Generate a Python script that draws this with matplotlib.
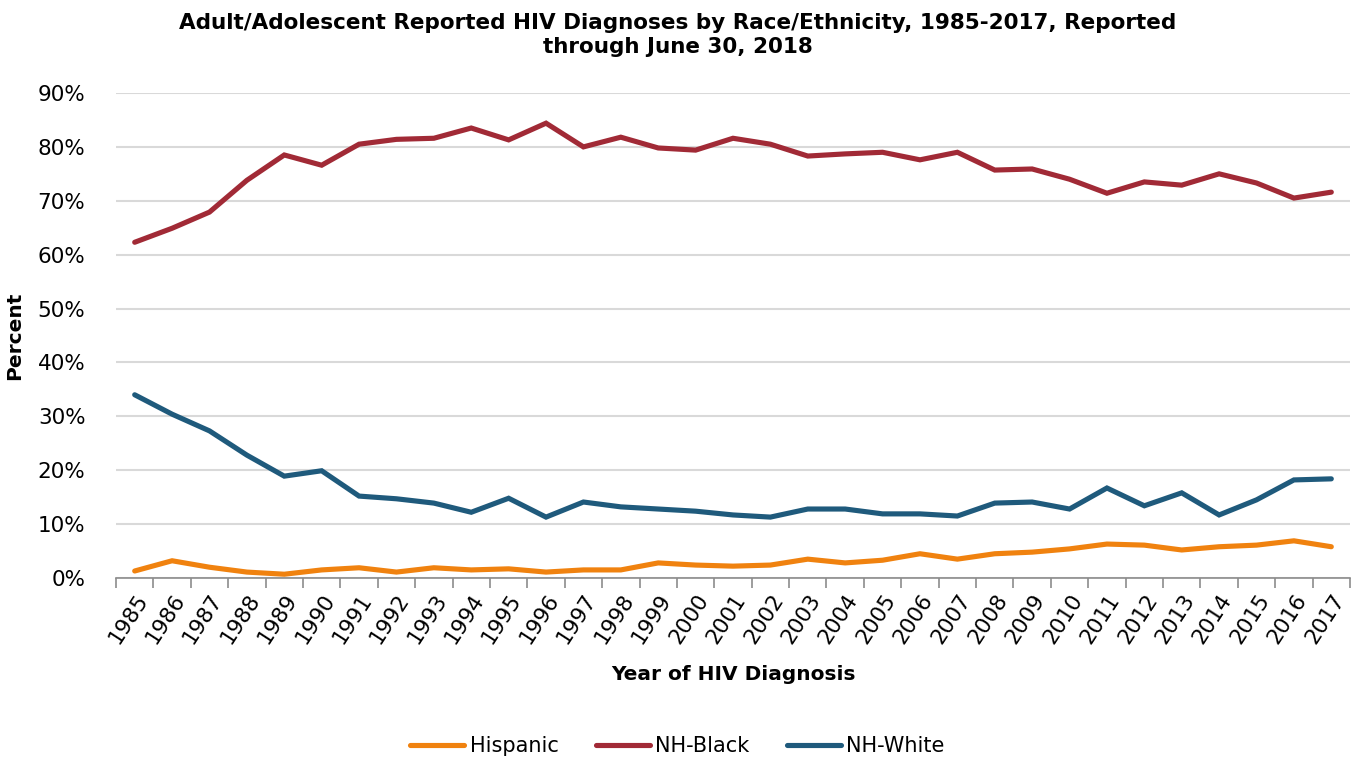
import matplotlib
matplotlib.use("Agg")
import matplotlib.pyplot as plt
from matplotlib.ticker import FuncFormatter, FixedLocator

years = list(range(1985, 2018))
hispanic = [1.3, 3.2, 2.0, 1.1, 0.7, 1.5, 1.9, 1.1, 1.9, 1.5, 1.7, 1.1, 1.5, 1.5, 2.8, 2.4,
            2.2, 2.4, 3.5, 2.8, 3.3, 4.5, 3.5, 4.5, 4.8, 5.4, 6.3, 6.1, 5.2, 5.8, 6.1, 6.9, 5.8]
nh_black = [62.3, 64.9, 67.9, 73.8, 78.5, 76.6, 80.5, 81.4, 81.6, 83.5, 81.3, 84.4, 80.0, 81.8,
            79.8, 79.4, 81.6, 80.5, 78.3, 78.7, 79.0, 77.6, 79.0, 75.7, 75.9, 74.0, 71.4, 73.5,
            72.9, 75.0, 73.3, 70.5, 71.6]
nh_white = [34.0, 30.4, 27.3, 22.8, 18.9, 19.9, 15.2, 14.7, 13.9, 12.2, 14.8, 11.3, 14.1, 13.2,
            12.8, 12.4, 11.7, 11.3, 12.8, 12.8, 11.9, 11.9, 11.5, 13.9, 14.1, 12.8, 16.7, 13.4,
            15.8, 11.7, 14.5, 18.2, 18.4]

series = [("Hispanic", hispanic, "#F0820F"),
          ("NH-Black", nh_black, "#A12A36"),
          ("NH-White", nh_white, "#1F5A7C")]

plt.rcParams['font.family'] = ['DejaVu Sans']
fig = plt.figure(figsize=(13.55, 7.59), dpi=100)
ax = fig.add_axes([116/1355, 1 - 578/759, (1350 - 116)/1355, (578 - 93)/759])

x = list(range(len(years)))
for name, vals, col in series:
    ax.plot(x, vals, color=col, lw=3.7, label=name, solid_capstyle='round', solid_joinstyle='miter')

ax.set_xlim(-0.5, len(years) - 0.5)
ax.set_ylim(0, 90)
ax.set_yticks(range(0, 91, 10))
ax.yaxis.set_major_formatter(FuncFormatter(lambda v, p: f"{int(v)}%"))
ax.grid(axis='y', color='#D9D9D9', lw=1.5)
ax.set_axisbelow(True)

ax.set_xticks(x)
ax.set_xticklabels([str(y) for y in years], rotation=57, ha='right', rotation_mode='anchor', fontsize=15.5)
ax.xaxis.set_minor_locator(FixedLocator([i - 0.5 for i in range(len(years) + 1)]))
ax.tick_params(axis='x', which='major', length=0, pad=9)
ax.tick_params(axis='x', which='minor', length=7, color='#8C8C8C', width=1.2)
ax.tick_params(axis='y', length=0, labelsize=15.5, pad=22)

for s in ['top', 'right', 'left']:
    ax.spines[s].set_visible(False)
ax.spines['bottom'].set_color('#8C8C8C')
ax.spines['bottom'].set_linewidth(1.2)

ax.set_ylabel("Percent", fontsize=14.5, fontweight='bold')
ax.yaxis.set_label_coords((15 - 116) / 1234, 0.5)
ax.yaxis.label.set_va('center')
ax.set_xlabel("Year of HIV Diagnosis", fontsize=14.5, fontweight='bold')
ax.xaxis.set_label_coords(0.5, (578 - 674) / 485)
ax.xaxis.label.set_va('center')

fig.text(0.5, 1 - 35/759, "Adult/Adolescent Reported HIV Diagnoses by Race/Ethnicity, 1985-2017, Reported\nthrough June 30, 2018",
         ha='center', va='center', fontsize=15.5, fontweight='bold', linespacing=1.25)

fig.legend(loc='center', bbox_to_anchor=(0.5, 1 - 746/759), ncol=3, frameon=False, fontsize=15,
           handlelength=2.6, columnspacing=1.8, handletextpad=0.25)

fig.savefig("out.png", dpi=100)
